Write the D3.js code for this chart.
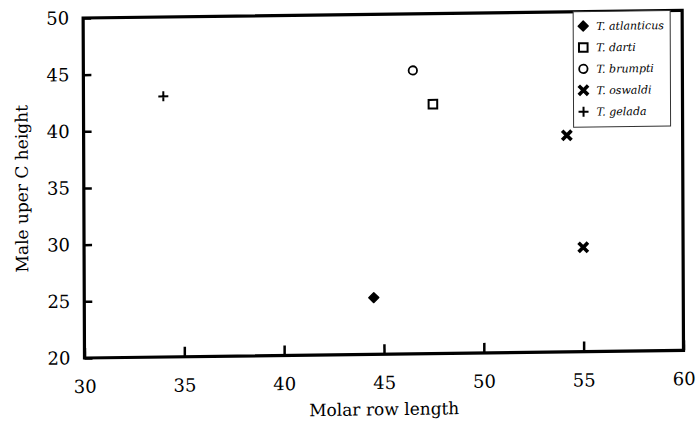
<!DOCTYPE html>
<html>
<head>
<meta charset="utf-8">
<script src="https://cdn.jsdelivr.net/npm/d3@7"></script>
<style>
body { margin: 0; background: #fff; }
text { font-family: "DejaVu Serif", serif; fill: #000; }
</style>
</head>
<body>
<svg id="chart" width="696" height="423"></svg>
<script>
// data
const species = ["T. atlanticus", "T. darti", "T. brumpti", "T. oswaldi", "T. gelada"];
const speciesMarker = ["diamond", "square", "circle", "xstar", "plus"];
const molarRow = [44.5, 47.5, 46.5, 54.2, 55.0, 34.0];
const upperC   = [25.0, 42.0, 45.0, 39.1, 29.2, 43.0];
const pointSpecies = [0, 1, 2, 3, 3, 4];
const xTicks = [30, 35, 40, 45, 50, 55, 60];
const yTicks = [20, 25, 30, 35, 40, 45, 50];

const W = 599, H = 340;

const svg = d3.select("#chart");
svg.append("rect").attr("width", 696).attr("height", 423).attr("fill", "#fff");

// the original is a slightly skewed scan, keep that skew
const g = svg.append("g").attr("transform", "matrix(1,-0.0128,0.004,1,83.14,18)");

const x = d3.scaleLinear().domain([30, 60]).range([0, W]);
const y = d3.scaleLinear().domain([20, 50]).range([H, 0]);

// axes, ticks point inward
const xAxis = g.append("g")
  .attr("transform", "translate(0," + H + ")")
  .call(d3.axisBottom(x).tickValues(xTicks).tickSize(-10).tickPadding(22));
const yAxis = g.append("g")
  .call(d3.axisLeft(y).tickValues(yTicks).tickSize(-8).tickPadding(14));

[xAxis, yAxis].forEach(a => {
  a.select(".domain").remove();
  a.selectAll(".tick line").attr("stroke", "#000").attr("stroke-width", 2.5);
  a.selectAll(".tick text").attr("font-size", 18).attr("font-family", "DejaVu Serif");
});

// frame
g.append("rect")
  .attr("x", 0).attr("y", 0)
  .attr("width", W).attr("height", H)
  .attr("fill", "none").attr("stroke", "#000").attr("stroke-width", 3.2);

// axis titles
g.append("text")
  .attr("x", W / 2).attr("y", H + 61)
  .attr("text-anchor", "middle")
  .attr("font-size", 17)
  .text("Molar row length");

g.append("text")
  .attr("transform", "translate(-56," + (H / 2) + ") rotate(-90)")
  .attr("text-anchor", "middle")
  .attr("font-size", 17)
  .text("Male uper C height");

function marker(sel, kind) {
  if (kind === "diamond") {
    sel.append("path").attr("d", "M0,-5L5,0L0,5L-5,0Z")
      .attr("fill", "#000").attr("stroke", "#000").attr("stroke-width", 1.4).attr("stroke-linejoin", "round");
  } else if (kind === "square") {
    sel.append("rect").attr("x", -4.3).attr("y", -4.3).attr("width", 8.6).attr("height", 8.6)
      .attr("fill", "none").attr("stroke", "#000").attr("stroke-width", 2);
  } else if (kind === "circle") {
    sel.append("circle").attr("r", 4.2)
      .attr("fill", "none").attr("stroke", "#000").attr("stroke-width", 1.8);
  } else if (kind === "xstar") {
    sel.append("path").attr("d", "M-3.4,-3.4L3.4,3.4M3.4,-3.4L-3.4,3.4")
      .attr("stroke", "#000").attr("stroke-width", 3.6).attr("stroke-linecap", "square");
    sel.append("rect").attr("x", -1.8).attr("y", -1.8).attr("width", 3.6).attr("height", 3.6).attr("fill", "#000");
  } else if (kind === "plus") {
    sel.append("path").attr("d", "M-5,0H5M0,-5V5")
      .attr("stroke", "#000").attr("stroke-width", 2);
  }
}

// points
g.selectAll(".pt")
  .data(molarRow.map((v, i) => ({ mx: v, c: upperC[i], s: pointSpecies[i] })))
  .enter().append("g")
  .attr("class", "pt")
  .attr("transform", d => "translate(" + x(d.mx) + "," + y(d.c) + ")")
  .each(function (d) { marker(d3.select(this), speciesMarker[d.s]); });

// legend
const leg = g.append("g").attr("transform", "translate(490,0)");
leg.append("rect")
  .attr("width", 97).attr("height", 115.5)
  .attr("fill", "#fff").attr("stroke", "#333").attr("stroke-width", 1);
const items = leg.selectAll(".item")
  .data(species)
  .enter().append("g")
  .attr("class", "item")
  .attr("transform", (_, i) => "translate(0," + (14.5 + i * 21.4) + ")");
items.append("g")
  .attr("transform", "translate(10,0)")
  .each(function (_, i) { marker(d3.select(this), speciesMarker[i]); });
items.append("text")
  .attr("x", 23).attr("y", 4)
  .attr("font-size", 11)
  .attr("font-style", "italic")
  .text(d => d);
</script>
</body>
</html>
